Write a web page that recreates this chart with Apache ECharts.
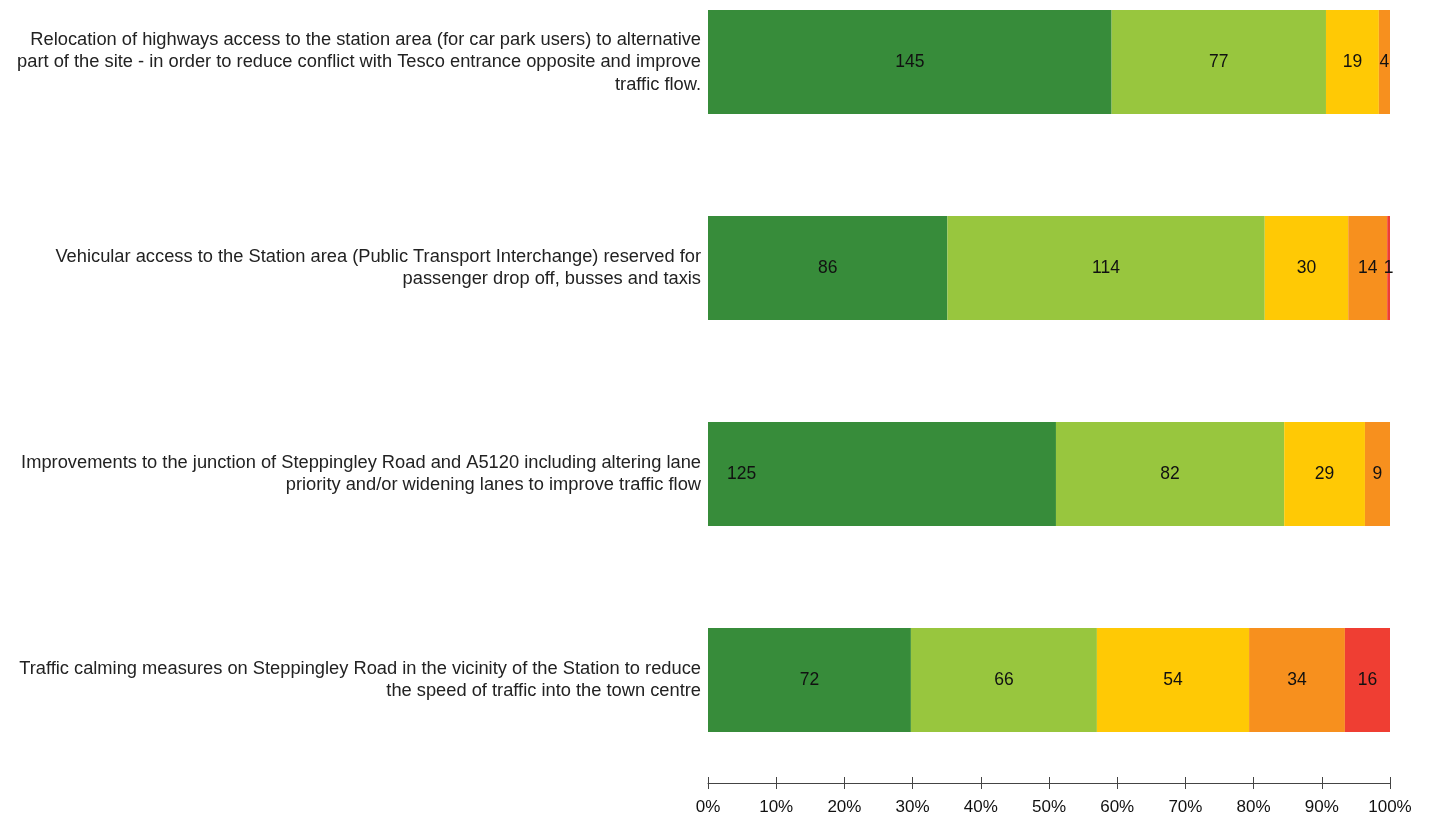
<!DOCTYPE html>
<html><head><meta charset="utf-8">
<script src="https://cdn.jsdelivr.net/npm/echarts@6/dist/echarts.min.js"></script>
<style>html,body{margin:0;padding:0;background:#fff}#c{width:1429px;height:816px}</style>
</head><body><div id="c"></div>
<script>
const categories = [
  "Relocation of highways access to the station area (for car park users) to alternative\npart of the site - in order to reduce conflict with Tesco entrance opposite and improve\ntraffic flow.",
  "Vehicular access to the Station area (Public Transport Interchange) reserved for\npassenger drop off, busses and taxis",
  "Improvements to the junction of Steppingley Road and A5120 including altering lane\npriority and/or widening lanes to improve traffic flow",
  "Traffic calming measures on Steppingley Road in the vicinity of the Station to reduce\nthe speed of traffic into the town centre"
];
const s1 = [145, 86, 125, 72];
const s2 = [77, 114, 82, 66];
const s3 = [19, 30, 29, 54];
const s4 = [4, 14, 9, 34];
const s5 = [0, 1, 0, 16];
const tickLabels = ['0%','10%','20%','30%','40%','50%','60%','70%','80%','90%','100%'];
const colors = ['#378c3a', '#98c63e', '#ffc905', '#f7901e', '#ef3e33'];

const FONT = 'Liberation Sans, Arial, sans-serif';
const all = [s1, s2, s3, s4, s5];
const totals = categories.map((_, i) => all.reduce((a, s) => a + s[i], 0));
const order = [3, 2, 1, 0];
const cats = order.map(i => categories[i]);

const series = all.map((s, k) => ({
  type: 'bar', stack: 'a', barWidth: 104, xAxisIndex: 0, yAxisIndex: 0,
  itemStyle: { color: colors[k] },
  data: order.map(i => {
    const item = { value: s[i] / totals[i] * 100, raw: s[i] };
    if (k === 0 && i === 2) item.label = { position: 'insideLeft', distance: 19 };
    return item;
  }),
  label: {
    show: true, position: 'inside', color: '#111', fontSize: 17.5, fontFamily: FONT,
    formatter: p => p.data.raw ? String(p.data.raw) : ''
  }
}));

const chart = echarts.init(document.getElementById('c'));
chart.setOption({
  animation: false,
  grid: [
    { left: 708, width: 682, top: 62, height: 618 },
    { left: 708, width: 682, top: 782, height: 1 }
  ],
  xAxis: [{
    gridIndex: 0, type: 'value', min: 0, max: 100, show: false
  }, {
    gridIndex: 1, type: 'value', min: 0, max: 100, interval: 10, position: 'bottom',
    axisLine: { show: true, onZero: false, lineStyle: { color: '#444', width: 1 } },
    axisTick: { show: true, length: 6, lineStyle: { color: '#444' } },
    axisLabel: { formatter: v => tickLabels[Math.round(v / 10)], color: '#111', fontSize: 17, margin: 16, fontFamily: FONT },
    splitLine: { show: false }
  }, {
    gridIndex: 1, type: 'value', min: 0, max: 100, interval: 10, position: 'bottom',
    axisLine: { show: false },
    axisTick: { show: true, inside: true, length: 6, lineStyle: { color: '#444' } },
    axisLabel: { show: false }, splitLine: { show: false }
  }],
  yAxis: [{
    gridIndex: 0, type: 'category', data: cats, boundaryGap: false,
    axisLine: { show: false }, axisTick: { show: false }, splitLine: { show: false },
    axisLabel: { color: '#222', fontSize: 18.3, lineHeight: 22.5, margin: 7, align: 'right',
      padding: [7, 0, 0, 0], fontFamily: FONT }
  }, {
    gridIndex: 1, type: 'value', show: false
  }],
  series: series
});
</script></body></html>
